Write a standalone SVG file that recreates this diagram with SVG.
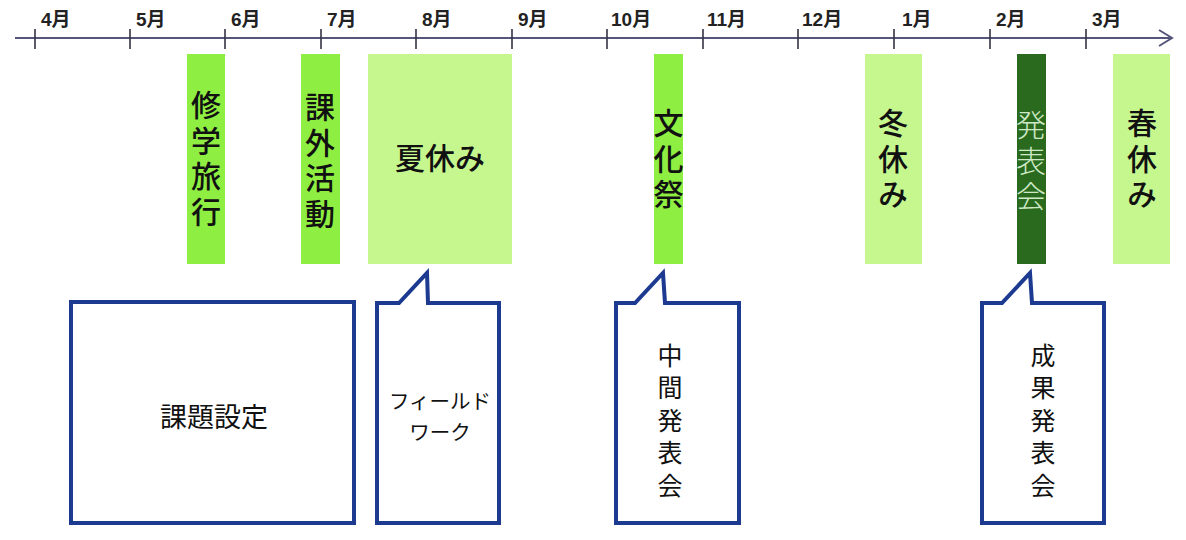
<svg xmlns="http://www.w3.org/2000/svg" width="1186" height="540" viewBox="0 0 1186 540">
<style>
.axis{stroke:#55557a;stroke-width:2;fill:none}
.tick{stroke:#333344;stroke-width:1.6}
.mon{font-family:"Liberation Sans","Noto Sans CJK JP",sans-serif;font-size:19px;font-weight:bold;fill:#222}
.b1{fill:#8fee42}
.b2{fill:#c6f78e}
.b3{fill:#2a6a1e}
.bt{font-family:"Noto Sans CJK JP",sans-serif;font-size:30px;font-weight:500;fill:#111;text-anchor:middle}
.v{writing-mode:vertical-rl;letter-spacing:5.5px}
.wt{fill:#cfe9c6;font-weight:300}
.box{fill:#fff;stroke:#1c3a90;stroke-width:4;stroke-linejoin:miter}
.xt{font-family:"Noto Sans CJK JP",sans-serif;fill:#111;text-anchor:middle}
.v2{writing-mode:vertical-rl;letter-spacing:7.5px;font-size:25px}
</style>
<rect width="1186" height="540" fill="#fff"/>
<g id="axis">
<line class="axis" x1="15" y1="38" x2="1172" y2="38"/>
<polyline class="axis" points="1159,30 1172,38 1159,46"/>
<g class="tick">
<line x1="35" y1="29" x2="35" y2="49"/><line x1="130" y1="29" x2="130" y2="49"/><line x1="225" y1="29" x2="225" y2="49"/><line x1="321" y1="29" x2="321" y2="49"/><line x1="416" y1="29" x2="416" y2="49"/><line x1="512" y1="29" x2="512" y2="49"/><line x1="607" y1="29" x2="607" y2="49"/><line x1="703" y1="29" x2="703" y2="49"/><line x1="798" y1="29" x2="798" y2="49"/><line x1="894" y1="29" x2="894" y2="49"/><line x1="990" y1="29" x2="990" y2="49"/><line x1="1086" y1="29" x2="1086" y2="49"/>
</g>
<g class="mon">
<text x="41" y="26">4月</text><text x="136" y="26">5月</text><text x="231" y="26">6月</text><text x="327" y="26">7月</text><text x="422" y="26">8月</text><text x="518" y="26">9月</text><text x="611" y="26">10月</text><text x="707" y="26">11月</text><text x="802" y="26">12月</text><text x="902" y="26">1月</text><text x="996" y="26">2月</text><text x="1092" y="26">3月</text>
</g>
</g>
<g id="shugakuryoko"><rect class="b1" x="187" y="54" width="38" height="210"/>
<text class="bt v" x="206" y="161">修学旅行</text></g>
<g id="kagai"><rect class="b1" x="301" y="54" width="39" height="210"/>
<text class="bt v" x="320" y="163">課外活動</text></g>
<g id="natsuyasumi"><rect class="b2" x="368" y="54" width="144" height="210"/>
<text class="bt" x="440" y="169">夏休み</text></g>
<g id="bunkasai"><rect class="b1" x="654" y="54" width="29" height="210"/>
<text class="bt v" x="668.5" y="161">文化祭</text></g>
<g id="fuyuyasumi"><rect class="b2" x="865" y="54" width="57" height="210"/>
<text class="bt v" x="893" y="161">冬休み</text></g>
<g id="happyokai-bar"><rect class="b3" x="1017" y="54" width="29" height="210"/>
<text class="bt v wt" x="1031" y="163">発表会</text></g>
<g id="haruyasumi"><rect class="b2" x="1113" y="54" width="57" height="210"/>
<text class="bt v" x="1142" y="161">春休み</text></g>
<g id="kadaisettei"><rect class="box" x="71" y="302" width="283" height="221"/>
<text class="xt" x="214" y="427" font-size="27">課題設定</text></g>
<g id="fieldwork"><path class="box" d="M377,303 H399 L427,273 L428,303 H499 V523 H377 Z"/>
<text class="xt" font-size="20.5" x="440" y="409">フィールド</text>
<text class="xt" font-size="20.5" x="440" y="439.5">ワーク</text></g>
<g id="chukan"><path class="box" d="M616,303 H635 L663,273 L665,303 H739 V523 H616 Z"/>
<text class="xt v2" x="670" y="424">中間発表会</text></g>
<g id="seika"><path class="box" d="M982,303 H1002 L1030,273 L1032,303 H1104 V523 H982 Z"/>
<text class="xt v2" x="1043" y="424">成果発表会</text></g>
<g id="connectors"></g>
</svg>
